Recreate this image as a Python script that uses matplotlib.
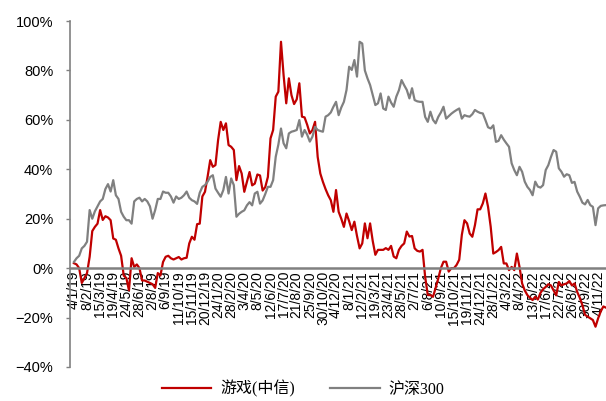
import matplotlib
matplotlib.use("Agg")
import matplotlib.pyplot as plt
from matplotlib.ticker import PercentFormatter

# weekly returns (%), starting 4/1/19
game_citic = [
    2, 1.5, 0, -6, -4, -2, 4.6, 15, 16.7, 18,
    23.5, 19.5, 21, 20.5, 19.4, 12, 11.5, 8, 5, -3,
    -4, -9, 4, 0.5, 1.5, 0, -5, -5, -5.5, -6,
    -6.5, -8, -2, -3, 2.5, 4.6, 5, 4, 3.5, 4,
    4.5, 3.5, 4, 4.2, 10, 12.7, 11.5, 17.8, 18, 29,
    30.9, 37, 43.7, 41, 41.7, 51.8, 59.2, 55.9, 58.6, 49.8,
    49.1, 47.8, 35.6, 41.3, 38.3, 30.9, 34.9, 38.9, 33.5, 34.2,
    37.9, 37.5, 31.4, 32.8, 36.9, 52.5, 55.9, 69.4, 71.4, 91.6,
    78, 66.7, 76.8, 70, 66.4, 68.3, 74.8, 61.3, 61, 58,
    54.5, 55.9, 59.2, 45, 38.3, 34.9, 32, 29.5, 27.5, 22.8,
    31.6, 22.8, 20, 16.7, 22.1, 19, 15.4, 18.8, 13, 8,
    10, 18.1, 12.1, 18.1, 11, 5.4, 7.4, 7.4, 7.4, 8.1,
    7.4, 9, 4.7, 4, 7.4, 9, 10, 14.8, 12.8, 13,
    8, 7, 6.7, 7.4, -3.5, -10.9, -10.9, -11.6, -8, -4.2,
    0, 2.6, 2.6, -1.4, 0, 0, 1.3, 3.4, 13.5, 19.4,
    18.1, 14, 12.7, 17.4, 23.8, 23.8, 26.2, 30.2, 24.8, 16.8,
    5.9, 6.5, 7.3, 8.6, 1.9, 1.9, -0.8, 0.5, -0.8, 5.9,
    0.5, -6.2, -9, -10.9, -12, -12.9, -11.6, -12.7, -10, -8.5,
    -7.6, -6.5, -7, -9, -11, -5.6, -7, -6.5, -6.2, -5.2,
    -7, -6.2, -9.6, -12, -15, -18.9, -19.6, -20.3, -21, -23.7,
    -20.3, -17.5, -15.5, -16,
]

hs300 = [
    2.5, 4, 5, 8, 9, 10.7, 23.5, 20, 23, 25,
    27, 28, 32, 34, 31, 35.6, 29.5, 28, 22.8, 20.8,
    19.4, 19.4, 18, 27, 28, 28.5, 27, 28, 27, 25,
    20, 23.5, 28, 28, 31, 30.5, 30.5, 29, 26.5, 29,
    28, 28.5, 29.5, 31, 28.5, 27.5, 27, 26, 30.5, 32.9,
    33.6, 35, 36.9, 37.6, 32.2, 30.5, 28.9, 31.6, 36.9, 30.2,
    36.3, 33.6, 20.8, 22, 22.8, 23.4, 25.4, 26.7, 25.4, 30.2,
    30.9, 26.1, 27.4, 30, 32.9, 32.9, 35.6, 45.1, 50, 56.5,
    50.5, 48.5, 54.5, 55.2, 55.5, 55.9, 59.9, 53.2, 55.9, 54,
    51.2, 53.2, 57.2, 55.9, 55.5, 55.2, 61.3, 61.9, 63, 65.3,
    67.3, 61.9, 65, 67.3, 72.1, 81.5, 80.2, 84.2, 77.5, 91.6,
    90.9, 80, 76.8, 74.1, 70, 66, 66.7, 70.7, 64.6, 64,
    69.4, 67, 65.3, 69.4, 72, 76.1, 74, 72.1, 68.7, 72.8,
    68, 67.5, 67.3, 67.3, 61.2, 59.2, 63.3, 60, 58.6, 61.2,
    63, 65.3, 60.5, 61.5, 62.5, 63.3, 64, 64.6, 60.5, 61.9,
    61.5, 61.3, 62.3, 64, 63.3, 62.8, 62.6, 59.9, 57, 56.5,
    57.8, 51.1, 51.5, 53.8, 52, 50.5, 49.1, 42.4, 39.7, 37.6,
    41, 39, 35, 32.9, 31.6, 29.5, 35, 33, 32.6, 33.6,
    39.7, 41.7, 45, 47.8, 47.1, 40.4, 39, 37, 38, 37.6,
    34.5, 34.9, 31, 28.9, 26.5, 25.8, 27.6, 25.5, 24.8, 17.4,
    24.2, 25.2, 25.4, 25.5,
]

# one label every 5 weeks
tick_labels = [
    "4/1/19", "8/2/19", "15/3/19", "19/4/19", "24/5/19", "28/6/19", "2/8/19",
    "6/9/19", "11/10/19", "15/11/19", "20/12/19", "24/1/20", "28/2/20", "3/4/20",
    "8/5/20", "12/6/20", "17/7/20", "21/8/20", "25/9/20", "30/10/20", "4/12/20",
    "8/1/21", "12/2/21", "19/3/21", "23/4/21", "28/5/21", "2/7/21", "6/8/21",
    "10/9/21", "15/10/21", "19/11/21", "24/12/21", "28/1/22", "4/3/22", "8/4/22",
    "13/5/22", "17/6/22", "22/7/22", "26/8/22", "30/9/22", "4/11/22",
]

weeks = list(range(len(game_citic)))
tick_pos = [i * 5 for i in range(len(tick_labels))]

plt.rcParams['font.family'] = ['Liberation Sans', 'DejaVu Sans']

fig = plt.figure(figsize=(6.06, 4.01), dpi=100)
ax = fig.add_axes([0.1155, 0.0848, 0.8845, 0.8628])

ax.plot(weeks, game_citic, color='#C00000', lw=1.6, label='游戏(中信)')
ax.plot(weeks, hs300, color='#808080', lw=1.6, label='沪深300')

ax.set_xlim(-1.5, 203)
ax.set_ylim(-40, 100)
ax.set_yticks(range(-40, 101, 20))
ax.yaxis.set_major_formatter(PercentFormatter(decimals=0))

ax.spines['top'].set_visible(False)
ax.spines['right'].set_visible(False)
ax.spines['left'].set_color('#808080')
ax.spines['left'].set_linewidth(1.2)
ax.spines['bottom'].set_position(('data', 0))
ax.spines['bottom'].set_color('#808080')
ax.spines['bottom'].set_linewidth(1.8)

ax.set_xticks(tick_pos)
ax.set_xticklabels(tick_labels, rotation=90, fontsize=10)
ax.tick_params(axis='x', length=0, pad=2)
ax.tick_params(axis='y', direction='out', length=3, width=1, color='#808080',
               labelsize=10.5, pad=9)

leg = fig.legend(loc='center', bbox_to_anchor=(0.5, 0.03), ncol=2, frameon=False,
                 handlelength=3.1, handletextpad=0.55, columnspacing=2.2,
                 prop={'family': ['Liberation Serif', 'Noto Sans CJK SC'], 'size': 11.5})

fig.savefig("out.png", dpi=100)
